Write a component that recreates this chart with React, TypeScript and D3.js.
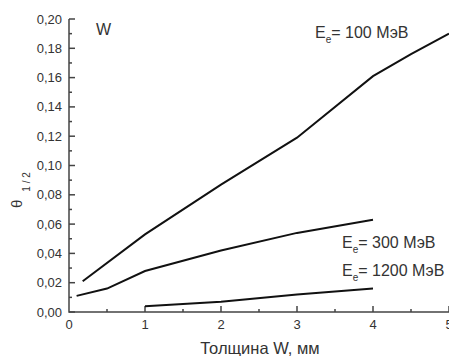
import * as d3 from 'd3';
import { useEffect, useRef } from 'react';

const thick100 = [0.18, 1, 2, 3, 4, 4.5, 5];
const theta100 = [0.021, 0.053, 0.087, 0.119, 0.161, 0.176, 0.190];
const thick300 = [0.1, 0.5, 1, 2, 3, 4];
const theta300 = [0.011, 0.016, 0.028, 0.042, 0.054, 0.063];
const thick1200 = [1, 2, 3, 4];
const theta1200 = [0.004, 0.007, 0.012, 0.016];
const xTicks = [0, 1, 2, 3, 4, 5];
const yTicks = [0, 0.02, 0.04, 0.06, 0.08, 0.1, 0.12, 0.14, 0.16, 0.18, 0.2];

const App = () => {
	const svgRef = useRef<SVGSVGElement>(null);

	useEffect(() => {
		const width = 449;
		const height = 356;
		const left = 69;
		const right = 449;
		const top = 19;
		const bottom = 312;
		const font = 'Liberation Sans, Arial, sans-serif';
		const ink = '#333';

		const x = d3.scaleLinear([0, 5], [left, right]);
		const y = d3.scaleLinear([0, 0.2], [bottom, top]);

		const svg = d3.select(svgRef.current);
		svg.selectAll('*').remove();
		svg.attr('width', width).attr('height', height).attr('viewBox', `0 0 ${width} ${height}`);

		// axes
		const axis = svg.append('g').attr('stroke', '#444').attr('stroke-width', 1.5).attr('fill', 'none');
		axis.append('path').attr('d', `M${left},${top}V${bottom}H${right}`);

		d3.range(0, 0.2001, 0.01).forEach((v, i) => {
			const len = i % 2 === 0 ? 6 : 3;
			axis.append('line').attr('x1', left).attr('x2', left + len).attr('y1', y(v)).attr('y2', y(v));
		});
		d3.range(0.5, 5.01, 0.5).forEach((v, i) => {
			const len = i % 2 === 1 ? 6 : 3;
			axis.append('line').attr('x1', x(v)).attr('x2', x(v)).attr('y1', bottom).attr('y2', bottom - len);
		});

		svg.append('g')
			.selectAll('text')
			.data(yTicks)
			.join('text')
			.attr('x', left - 7)
			.attr('y', (d) => y(d) + 4.5)
			.attr('text-anchor', 'end')
			.attr('font-family', font)
			.attr('font-size', 13)
			.attr('fill', ink)
			.text((d) => d.toFixed(2).replace('.', ','));

		svg.append('g')
			.selectAll('text')
			.data(xTicks)
			.join('text')
			.attr('x', (d) => x(d))
			.attr('y', bottom + 17)
			.attr('text-anchor', 'middle')
			.attr('font-family', font)
			.attr('font-size', 13)
			.attr('fill', ink)
			.text((d) => String(d));

		// curves
		const line = d3.line<[number, number]>().x((d) => x(d[0])).y((d) => y(d[1]));
		const series: [number[], number[]][] = [
			[thick100, theta100],
			[thick300, theta300],
			[thick1200, theta1200],
		];
		series.forEach(([xs, ys]) => {
			svg.append('path')
				.attr('fill', 'none')
				.attr('stroke', '#111')
				.attr('stroke-width', 2)
				.attr('d', line(xs.map((v, i) => [v, ys[i]] as [number, number])));
		});

		// labels
		const lab = (tx: number, ty: number, energy: string) => {
			const t = svg.append('text').attr('x', tx).attr('y', ty).attr('font-family', font).attr('font-size', 16).attr('fill', ink);
			t.append('tspan').text('E');
			t.append('tspan').attr('font-size', 10).attr('dy', 5).text('e');
			t.append('tspan').attr('dy', -5).text(`= ${energy} МэВ`);
		};
		lab(315, 38, '100');
		lab(342, 248, '300');
		lab(342, 276, '1200');

		svg.append('text').attr('x', 96).attr('y', 35).attr('font-family', font).attr('font-size', 16).attr('fill', ink).text('W');

		svg.append('text')
			.attr('x', 260)
			.attr('y', 354)
			.attr('text-anchor', 'middle')
			.attr('font-family', font)
			.attr('font-size', 16.5)
			.attr('fill', ink)
			.text('Толщина W, мм');

		const yl = svg.append('text')
			.attr('transform', 'translate(22,208) rotate(-90)')
			.attr('font-family', font)
			.attr('font-size', 15)
			.attr('fill', ink);
		yl.append('tspan').text('θ');
		yl.append('tspan').attr('font-size', 10).attr('dx', 8).attr('dy', 8).text('1 / 2');
	}, []);

	return <svg ref={svgRef} style={{ position: 'absolute', left: 0, top: 0 }} />;
};

export default App;
